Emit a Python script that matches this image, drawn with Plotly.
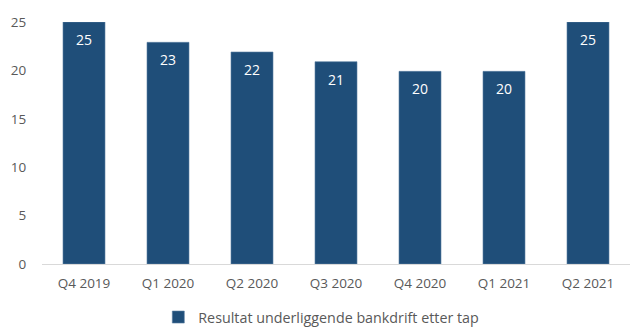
import plotly.graph_objects as go

categories = ["Q4 2019", "Q1 2020", "Q2 2020", "Q3 2020", "Q4 2020", "Q1 2021", "Q2 2021"]
values = [25.0, 22.9, 21.9, 20.9, 19.9, 19.9, 25.0]
series_name = "Resultat underliggende bankdrift etter tap"
y_ticks = [0, 5, 10, 15, 20, 25]

FONT = "Open Sans"
GRAY = "#595959"
BAR = "#1F4E79"

fig = go.Figure()
fig.add_trace(go.Bar(
    x=categories, y=values, name=series_name,
    marker=dict(color=BAR, line=dict(color="#5B7FA3", width=0.6)),
    showlegend=True,
))

for c, v in zip(categories, values):
    fig.add_annotation(x=c, y=v, text=f"{v:.0f}", showarrow=False,
                       yanchor="top", yshift=-6,
                       font=dict(family=FONT, size=14, color="white"))

fig.update_layout(
    width=630, height=327,
    margin=dict(l=42, r=0, t=22, b=63, autoexpand=False),
    paper_bgcolor="white", plot_bgcolor="white",
    bargap=0.5,
    font=dict(family=FONT, size=14, color=GRAY),
    xaxis=dict(showgrid=False, showline=True, linecolor="#D9D9D9", linewidth=1,
               ticks="outside", ticklen=7, tickcolor="rgba(0,0,0,0)",
               tickfont=dict(family=FONT, size=13.5, color=GRAY), fixedrange=True,
               automargin=False),
    yaxis=dict(range=[0, 25], tickvals=y_ticks, showgrid=False, zeroline=False,
               showline=False, ticks="outside", ticklen=12, tickcolor="rgba(0,0,0,0)",
               tickfont=dict(family=FONT, size=13.5, color=GRAY), fixedrange=True,
               automargin=False),
    legend=dict(orientation="h", xanchor="center", x=0.475, yref="paper",
                y=-0.22, yanchor="middle", font=dict(family=FONT, size=14.3, color=GRAY),
                itemwidth=30),
)

fig.write_html("out.html", config={"displayModeBar": False},
               post_script="document.body.style.margin='0';document.body.style.overflow='hidden';")
